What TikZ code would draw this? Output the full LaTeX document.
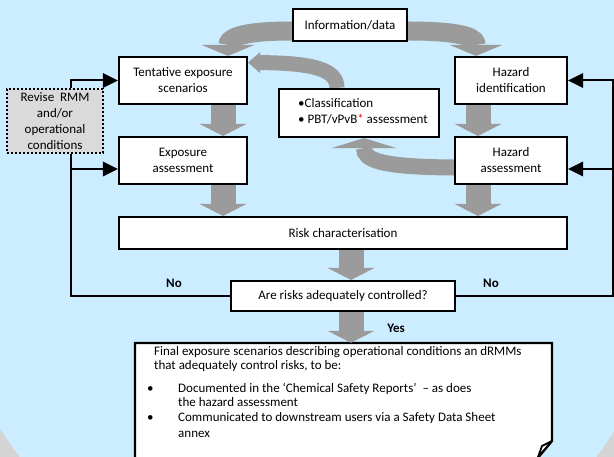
\documentclass[tikz,border=0pt]{standalone}
\usepackage{fontspec}
\setmainfont{Carlito}
\usetikzlibrary{arrows.meta}
\definecolor{bgblue}{RGB}{204,236,255}
\definecolor{outgray}{RGB}{212,212,212}
\definecolor{arrgray}{RGB}{155,155,155}
\definecolor{revgray}{RGB}{218,218,218}
\begin{document}
\begin{tikzpicture}[x=1pt,y=-1pt,
  font=\fontsize{13}{16}\selectfont,
  box/.style={draw=black, line width=2.2pt, fill=white, inner sep=0pt, align=center},
  blk/.style={arrgray, line width=25pt, -{Triangle[length=12pt,width=47pt,line width=0pt]}},
  curv/.style={arrgray, line width=#1, -{Triangle[length=11pt,width=53pt,line width=0pt]}},
  conn/.style={black, line width=2pt},
  conna/.style={conn, -{Triangle[length=15pt,width=15pt,line width=0pt]}},
  ftxt/.style={anchor=base west, inner sep=0pt},
  lbl/.style={font=\fontsize{13}{16}\selectfont\bfseries}]
\useasboundingbox (0,0) rectangle (614,457);
\clip (0,0) rectangle (614,457);
\fill[outgray] (0,0) rectangle (614,457);
\fill[bgblue] (308,150) ellipse [x radius=387pt, y radius=460pt];

% nodes (geometry first)
\node[box, minimum width=114pt, minimum height=32pt] (info) at (350,25) {Information/data};
\node[box, minimum width=128pt, minimum height=47pt] (tent) at (183,80.5) {Tentative exposure\\scenarios};
\node[box, minimum width=128pt, minimum height=47pt] (expo) at (183,160.5) {Exposure\\assessment};
\node[box, minimum width=160pt, minimum height=48pt] (class) at (359,113) {};
\node[box, minimum width=112pt, minimum height=47pt] (hazid) at (511,80.5) {Hazard\\identification};
\node[box, minimum width=112pt, minimum height=47pt] (hazas) at (511,160.5) {Hazard\\assessment};

% curved block arrows
\draw[curv=19pt] ([yshift=-6pt]info.west) .. controls (234,31) and (228,40) .. ([xshift=45pt]tent.north);
\draw[curv=19pt] ([yshift=-6pt]info.east) .. controls (472,31) and (476,40) .. ([xshift=-35pt]hazid.north);
\draw[arrgray, line width=15pt, -{Triangle[length=12pt,width=21pt,line width=0pt]}]
  ([xshift=-22pt]class.north) .. controls (337,70) and (315,63) .. ([yshift=18pt]tent.east);
\draw[arrgray, line width=16pt, -{Triangle[length=10pt,width=65pt,line width=0pt]}]
  ([yshift=-7pt]hazas.west) .. controls (380,167) and (364,160) .. ([xshift=5pt]class.south);

% redraw boxes on top of curved arrows
\node[box, minimum width=114pt, minimum height=32pt] at (info) {Information/data};
\node[box, minimum width=128pt, minimum height=47pt] at (tent) {Tentative exposure\\scenarios};
\node[box, minimum width=112pt, minimum height=47pt] at (hazid) {Hazard\\identification};
\node[box, minimum width=112pt, minimum height=47pt] at (hazas) {Hazard\\assessment};
\node[box, minimum width=160pt, minimum height=48pt] at (class) {};
\node[ftxt] (cl1) at (298,108) {\textbullet Classification};
\node[ftxt] (cl2) at (298,124) {\textbullet\ PBT/vPvB{\color{red}*} assessment};

\node[box, minimum width=448pt, minimum height=32pt] (risk) at (343,233) {Risk characterisation};
\node[box, minimum width=224pt, minimum height=30pt] (ctrl) at (343,296) {Are risks adequately controlled?};
\node[draw=black, line width=2pt, dotted, fill=revgray, inner sep=0pt, align=center,
      minimum width=96pt, minimum height=64pt] (revise) at (55,121) {Revise~~RMM\\and/or\\operational\\conditions};

% final box
\node[inner sep=0pt, minimum width=417pt, minimum height=122pt] (final) at (343.5,404) {};
\draw[line width=2.2pt, fill=white] (135,470) -- (135,343) -- (552,343) -- (552,441) -- (537,459) -- (135,459);
\draw[line width=1.8pt, fill=white, line join=round] (552,441) -- (542,446) -- (538,457) -- cycle;
\node[ftxt] (f1) at (154,356) {Final exposure scenarios describing operational conditions an dRMMs};
\node[ftxt] (f2) at (154,370) {that adequately control risks, to be:};
\node[ftxt] (b1) at (147,392) {\textbullet};
\node[ftxt] (b1t) at (178,392) {Documented in the ‘Chemical Safety Reports’~ – as does};
\node[ftxt] (b1u) at (178,407) {the hazard assessment};
\node[ftxt] (b2) at (147,422) {\textbullet};
\node[ftxt] (b2t) at (178,422) {Communicated to downstream users via a Safety Data Sheet};
\node[ftxt] (b2u) at (178,438) {annex};

% straight block arrows
\draw[blk] ([xshift=40pt]tent.south) -- ([xshift=40pt]expo.north);
\draw[blk] ([xshift=40pt]expo.south) -- ([xshift=40pt]expo.south |- risk.north);
\draw[blk] ([xshift=-33pt]hazid.south) -- ([xshift=-33pt]hazas.north);
\draw[blk] ([xshift=-33pt]hazas.south) -- ([xshift=-33pt]hazas.south |- risk.north);
\draw[blk] ([xshift=8pt]risk.south) -- ([xshift=8pt]ctrl.north);
\draw[blk] ([xshift=8pt]ctrl.south) -- ([xshift=8pt]ctrl.south |- final.north);

% connectors
\coordinate (Lmid) at (71,169);
\coordinate (Rtop) at (613,80.5);
\coordinate (Rmid) at (613,169);
\draw[conn] (ctrl.west) -| ([xshift=16pt]revise.south);
\draw[conna] ([xshift=16pt]revise.north) |- (tent.west);
\draw[conna] (Lmid) -- (Lmid -| expo.west);
\draw[conna] (ctrl.east) -| (Rtop) -- (hazid.east);
\draw[conna] (Rmid) -- (Rmid -| hazas.east);

\node[lbl] (no1) at (174,283) {No};
\node[lbl] (no2) at (491,283) {No};
\node[lbl] (yes) at (396,328) {Yes};
\end{tikzpicture}
\end{document}
